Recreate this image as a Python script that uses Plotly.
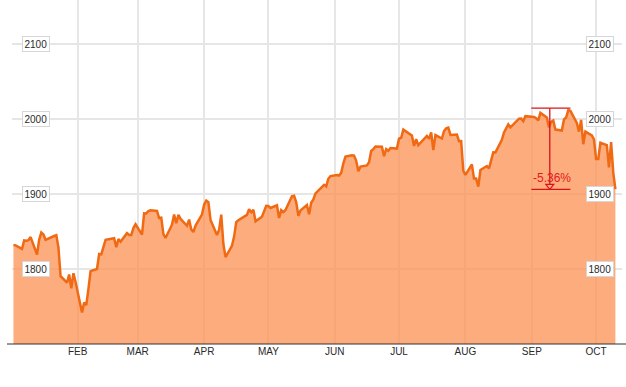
import plotly.graph_objects as go

# ---- data (S&P-style index closes) ----
dates = [
    "2014-01-02","2014-01-03","2014-01-06","2014-01-07","2014-01-08","2014-01-09","2014-01-10",
    "2014-01-13","2014-01-14","2014-01-15","2014-01-16","2014-01-17","2014-01-21","2014-01-22",
    "2014-01-23","2014-01-24","2014-01-27","2014-01-28","2014-01-29","2014-01-30","2014-01-31",
    "2014-02-03","2014-02-04","2014-02-05","2014-02-06","2014-02-07","2014-02-10","2014-02-11",
    "2014-02-12","2014-02-13","2014-02-14","2014-02-18","2014-02-19","2014-02-20","2014-02-21",
    "2014-02-24","2014-02-25","2014-02-26","2014-02-27","2014-02-28",
    "2014-03-03","2014-03-04","2014-03-05","2014-03-06","2014-03-07","2014-03-10","2014-03-11",
    "2014-03-12","2014-03-13","2014-03-14","2014-03-17","2014-03-18","2014-03-19","2014-03-20",
    "2014-03-21","2014-03-24","2014-03-25","2014-03-26","2014-03-27","2014-03-28","2014-03-31",
    "2014-04-01","2014-04-02","2014-04-03","2014-04-04","2014-04-07","2014-04-08","2014-04-09",
    "2014-04-10","2014-04-11","2014-04-14","2014-04-15","2014-04-16","2014-04-17","2014-04-21",
    "2014-04-22","2014-04-23","2014-04-24","2014-04-25","2014-04-28","2014-04-29","2014-04-30",
    "2014-05-01","2014-05-02","2014-05-05","2014-05-06","2014-05-07","2014-05-08","2014-05-09",
    "2014-05-12","2014-05-13","2014-05-14","2014-05-15","2014-05-16","2014-05-19","2014-05-20",
    "2014-05-21","2014-05-22","2014-05-23","2014-05-27","2014-05-28","2014-05-29","2014-05-30",
    "2014-06-02","2014-06-03","2014-06-04","2014-06-05","2014-06-06","2014-06-09","2014-06-10",
    "2014-06-11","2014-06-12","2014-06-13","2014-06-16","2014-06-17","2014-06-18","2014-06-19",
    "2014-06-20","2014-06-23","2014-06-24","2014-06-25","2014-06-26","2014-06-27","2014-06-30",
    "2014-07-01","2014-07-02","2014-07-03","2014-07-07","2014-07-08","2014-07-09","2014-07-10",
    "2014-07-11","2014-07-14","2014-07-15","2014-07-16","2014-07-17","2014-07-18","2014-07-21",
    "2014-07-22","2014-07-23","2014-07-24","2014-07-25","2014-07-28","2014-07-29","2014-07-30",
    "2014-07-31",
    "2014-08-01","2014-08-04","2014-08-05","2014-08-06","2014-08-07","2014-08-08","2014-08-11",
    "2014-08-12","2014-08-13","2014-08-14","2014-08-15","2014-08-18","2014-08-19","2014-08-20",
    "2014-08-21","2014-08-22","2014-08-25","2014-08-26","2014-08-27","2014-08-28","2014-08-29",
    "2014-09-02","2014-09-03","2014-09-04","2014-09-05","2014-09-08","2014-09-09","2014-09-10",
    "2014-09-11","2014-09-12","2014-09-15","2014-09-16","2014-09-17","2014-09-18","2014-09-19",
    "2014-09-22","2014-09-23","2014-09-24","2014-09-25","2014-09-26","2014-09-29","2014-09-30",
    "2014-10-01","2014-10-02","2014-10-03","2014-10-06","2014-10-07","2014-10-08","2014-10-09",
    "2014-10-10",
]

close = [
    1831.98, 1831.37, 1826.77, 1837.88, 1837.49, 1838.13, 1842.37,
    1819.20, 1838.88, 1848.38, 1845.89, 1838.70, 1843.80, 1844.86,
    1828.46, 1790.29, 1781.56, 1792.50, 1774.20, 1794.19, 1782.59,
    1741.89, 1755.20, 1751.64, 1773.43, 1797.02, 1799.84, 1819.75,
    1819.26, 1829.83, 1838.63, 1840.76, 1828.75, 1839.78, 1836.25,
    1847.61, 1845.12, 1845.16, 1854.29, 1859.45,
    1845.73, 1873.91, 1873.81, 1877.03, 1878.04, 1877.17, 1867.63,
    1868.20, 1846.34, 1841.13, 1858.83, 1872.25, 1860.77, 1872.01,
    1866.52, 1857.44, 1865.62, 1852.56, 1849.04, 1857.62, 1872.34,
    1885.52, 1890.90, 1888.77, 1865.09, 1845.04, 1851.96, 1872.18,
    1833.08, 1815.69, 1830.61, 1842.98, 1862.31, 1864.85, 1871.89,
    1879.55, 1875.39, 1878.61, 1863.40, 1869.43, 1878.33, 1883.95,
    1883.68, 1881.14, 1884.66, 1867.72, 1878.21, 1875.63, 1878.48,
    1896.65, 1897.45, 1888.53, 1870.85, 1877.86, 1885.08, 1872.83,
    1888.03, 1892.49, 1900.53, 1911.91, 1909.78, 1920.03, 1923.57,
    1924.97, 1924.24, 1927.88, 1940.46, 1949.44, 1951.27, 1950.79,
    1943.89, 1930.11, 1936.16, 1937.78, 1941.99, 1956.98, 1959.48,
    1962.87, 1962.61, 1949.98, 1959.53, 1957.22, 1960.96, 1960.23,
    1973.32, 1974.62, 1985.44, 1977.65, 1963.71, 1972.83, 1964.68,
    1967.57, 1977.10, 1973.28, 1981.57, 1958.12, 1978.22, 1973.63,
    1983.53, 1987.01, 1987.98, 1978.34, 1978.91, 1969.95, 1970.07,
    1930.67,
    1925.15, 1938.99, 1920.21, 1920.24, 1909.57, 1931.59, 1936.92,
    1933.75, 1946.72, 1955.18, 1955.06, 1971.74, 1981.60, 1986.51,
    1992.37, 1988.40, 1997.92, 2000.02, 2000.12, 1996.74, 2003.37,
    2002.28, 2000.72, 1997.65, 2007.71, 2001.54, 1988.44, 1995.69,
    1997.45, 1985.54, 1984.13, 1998.98, 2001.57, 2011.36, 2010.40,
    1994.29, 1982.77, 1998.30, 1965.99, 1982.85, 1977.80, 1972.29,
    1946.16, 1946.17, 1967.90, 1964.82, 1935.10, 1968.89, 1928.21,
    1906.13,
]

month_ticks = ["2014-02-01", "2014-03-01", "2014-04-01", "2014-05-01", "2014-06-01",
               "2014-07-01", "2014-08-01", "2014-09-01", "2014-10-01"]
month_labels = ["FEB", "MAR", "APR", "MAY", "JUN", "JUL", "AUG", "SEP", "OCT"]

y_ticks = [1800, 1900, 2000, 2100]
y_labels = ["1800", "1900", "2000", "2100"]

# drawdown marker (peak -> latest)
dd_high = 2014.0
dd_low = 1906.0
dd_text = "-5.36%"

# ---- figure ----
fig = go.Figure()
fig.add_trace(go.Scatter(
    x=dates, y=close, mode="lines",
    line=dict(color="#F06A14", width=2.5),
    fill="tozeroy", fillcolor="rgba(252,144,82,0.75)",
    hoverinfo="skip",
))

W, H = 626, 387
ML, MR, MT, MB = 12, 4, 0, 43
pw = W - ML - MR

def px_to_paper(px):
    return (px - ML) / pw

annotations = []
for v, t in zip(y_ticks, y_labels):
    for px in (35.5, 600):
        annotations.append(dict(
            x=px_to_paper(px), xref="paper", y=v, yref="y",
            text=t, showarrow=False,
            font=dict(family="Liberation Sans, Arial, sans-serif", size=10, color="#2a2a2a"),
            bgcolor="white", bordercolor="#d6d6d6", borderwidth=1, borderpad=1.5,
            xanchor="center", yanchor="middle",
        ))

annotations.append(dict(
    x="2014-09-09 09:00", xref="x", y=1921, yref="y", xshift=2,
    text=dd_text, showarrow=False,
    font=dict(family="Liberation Sans, Arial, sans-serif", size=12, color="#e5191c"),
    xanchor="center", yanchor="middle",
))

red = "#d9131a"
shapes = [
    dict(type="line", xref="x", yref="y", x0="2014-08-31 18:00", x1="2014-09-19 00:00",
         y0=dd_high, y1=dd_high, line=dict(color=red, width=1.3)),
    dict(type="line", xref="x", yref="y", x0="2014-08-31 18:00", x1="2014-09-19 00:00",
         y0=dd_low, y1=dd_low, line=dict(color=red, width=1.3)),
    dict(type="line", xref="x", yref="y", x0="2014-09-09 09:00", x1="2014-09-09 09:00",
         y0=dd_high, y1=dd_low, line=dict(color=red, width=1.3)),
    dict(type="path", xref="x", yref="y", xsizemode="pixel", ysizemode="pixel",
         xanchor="2014-09-09 09:00", yanchor=dd_low,
         path="M -4,5 L 4,5 L 0,0 Z", line=dict(color=red, width=1.2),
         fillcolor="rgba(252,174,126,1)"),
    # bottom axis line
    dict(type="line", xref="paper", yref="paper", x0=-5 / pw, x1=1 + 4 / pw, y0=0, y1=0,
         line=dict(color="#333333", width=1.2)),
]

fig.update_layout(
    width=W, height=H,
    margin=dict(l=ML, r=MR, t=MT, b=MB),
    paper_bgcolor="white", plot_bgcolor="white",
    showlegend=False,
    annotations=annotations,
    shapes=shapes,
    xaxis=dict(
        type="date",
        range=["2014-01-01 07:40", "2014-10-13 02:00"],
        tickvals=month_ticks, ticktext=month_labels,
        showgrid=True, gridcolor="#e6e6e6", gridwidth=2,
        zeroline=False, showline=False, ticks="",
        tickfont=dict(family="Liberation Sans, Arial, sans-serif", size=10, color="#2a2a2a"),
        fixedrange=True,
    ),
    yaxis=dict(
        range=[1700, 2158],
        tickvals=y_ticks, showticklabels=False,
        showgrid=True, gridcolor="#e6e6e6", gridwidth=2,
        zeroline=False, showline=False, ticks="",
        fixedrange=True,
    ),
)

fig.write_html(
    "out.html",
    config={"displayModeBar": False},
    post_script="document.body.style.margin='0px';document.body.style.padding='0px';",
)
